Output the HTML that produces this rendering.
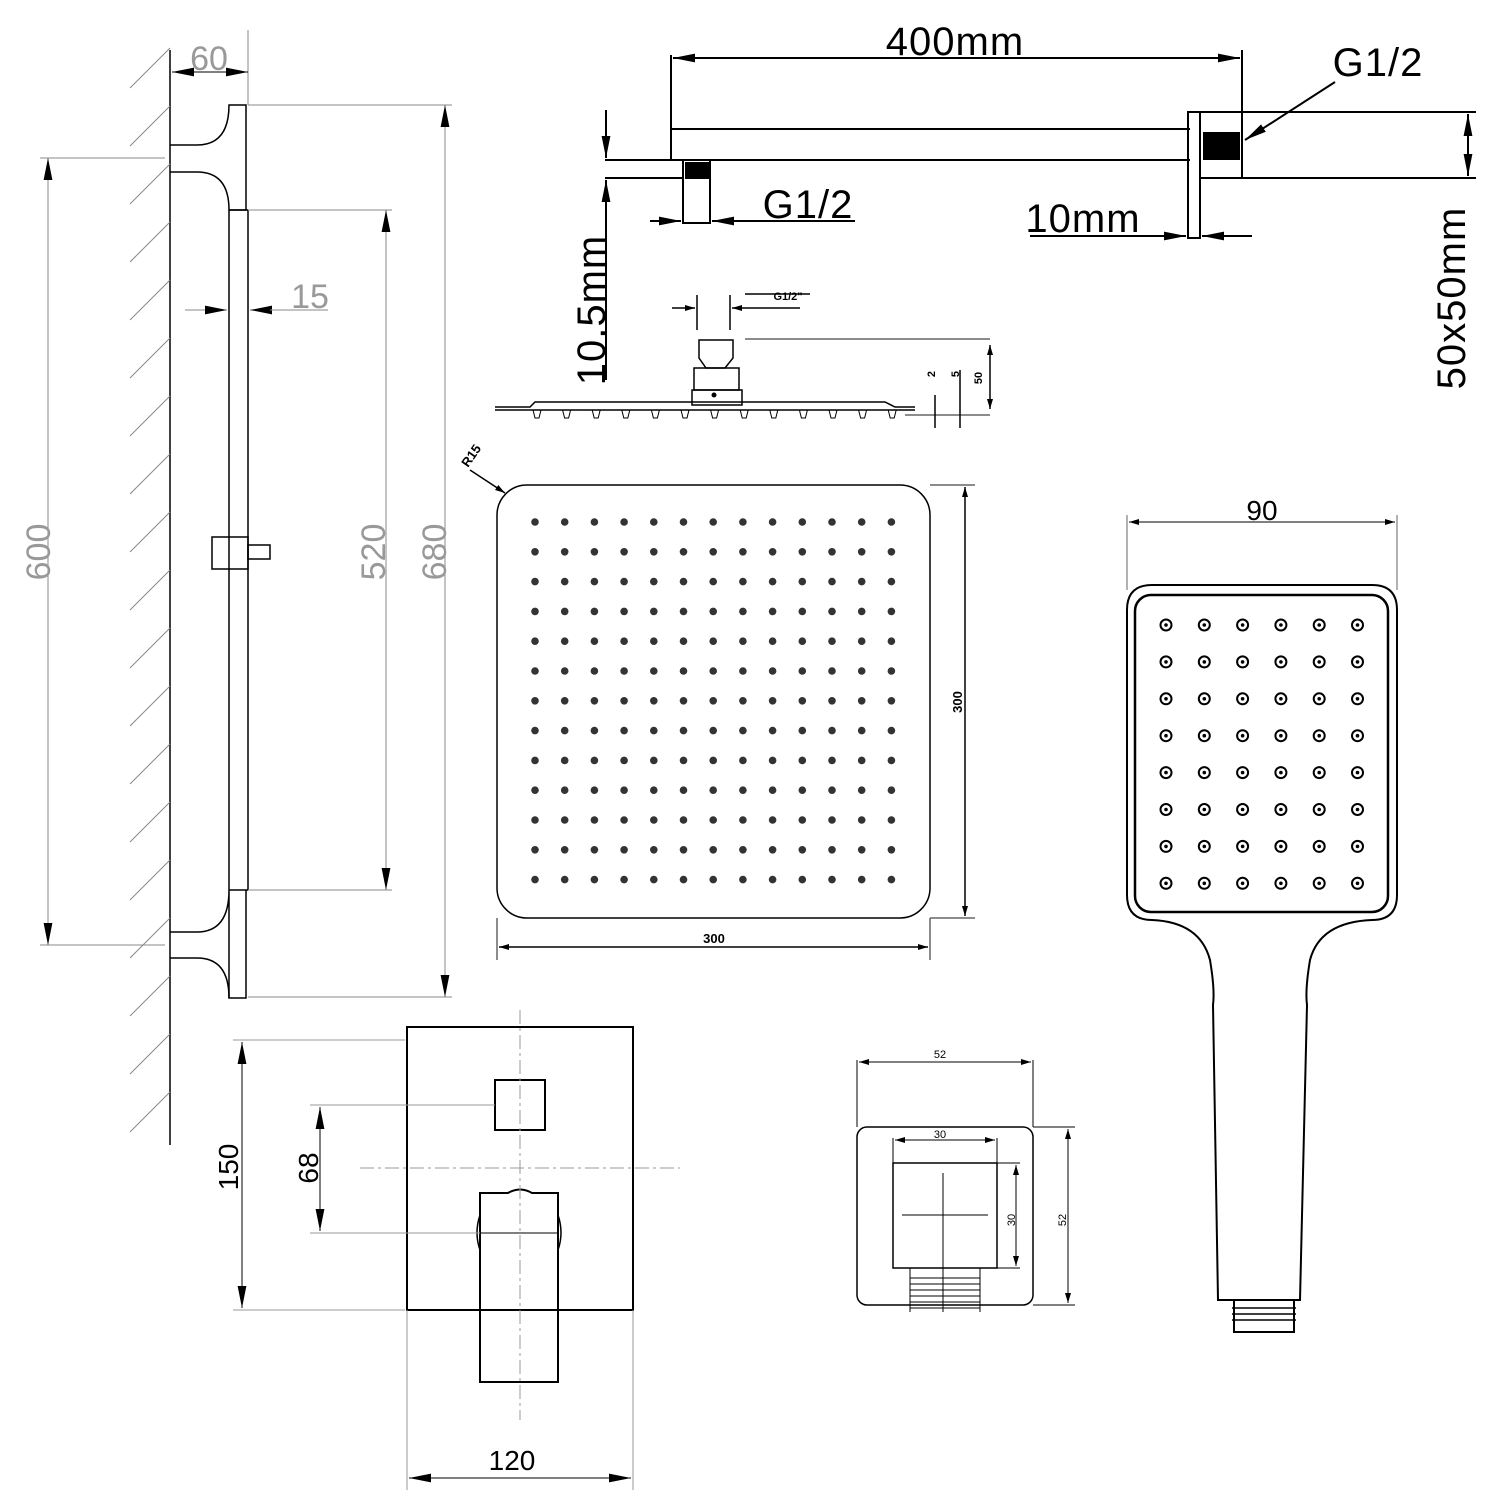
<!DOCTYPE html>
<html><head><meta charset="utf-8"><style>
html,body{margin:0;padding:0;background:#fff}
svg{display:block}
text{font-family:"Liberation Sans",sans-serif}
</style></head><body>
<svg id="s" width="1500" height="1500" viewBox="0 0 1500 1500" xmlns="http://www.w3.org/2000/svg">
<defs>
<marker id="a" viewBox="0 0 10 10" refX="10" refY="5" markerWidth="10" markerHeight="10" markerUnits="userSpaceOnUse" orient="auto-start-reverse"><path d="M0,2 L10,5 L0,8z" fill="#000"/></marker>
<marker id="b" viewBox="0 0 10 10" refX="10" refY="5" markerWidth="22" markerHeight="22" markerUnits="userSpaceOnUse" orient="auto-start-reverse"><path d="M0,3 L10,5 L0,7z" fill="#000"/></marker>
</defs>
<g fill="none" stroke="#000" stroke-width="1.5">
<line x1="170" y1="50" x2="170" y2="1145"/>
<g id="hatch" stroke="#888" stroke-width="1"></g>
<path d="M170,145 L197,145 Q229,145 229,105 L246,105 L246,210 L229,210 Q229,172 197,172 L170,172"/>
<path d="M170,932 L197,932 Q229,932 229,890 L229,998 L246,998 L246,890"/>
<path d="M170,958 L197,958 Q229,958 229,998"/>
<line x1="229" y1="210" x2="229" y2="890"/><line x1="248" y1="210" x2="248" y2="890"/>
<line x1="229" y1="890" x2="248" y2="890"/><line x1="229" y1="210" x2="248" y2="210"/>
<rect x="212" y="537" width="36" height="32"/><rect x="248" y="545" width="22" height="14"/>
</g>
<g stroke="#888" stroke-width="1" fill="none">
<line x1="248" y1="30" x2="248" y2="105"/>
<line x1="172" y1="72" x2="248" y2="72" stroke="#000" marker-start="url(#b)" marker-end="url(#b)"/>
<line x1="40" y1="158" x2="165" y2="158"/><line x1="40" y1="945" x2="165" y2="945"/>
<line x1="48" y1="158" x2="48" y2="945" marker-start="url(#b)" marker-end="url(#b)"/>
<line x1="248" y1="105" x2="452" y2="105"/><line x1="248" y1="997" x2="452" y2="997"/>
<line x1="445" y1="105" x2="445" y2="997" marker-start="url(#b)" marker-end="url(#b)"/>
<line x1="248" y1="210" x2="392" y2="210"/><line x1="248" y1="890" x2="392" y2="890"/>
<line x1="386" y1="210" x2="386" y2="890" marker-start="url(#b)" marker-end="url(#b)"/>
<line x1="185" y1="310" x2="227" y2="310" marker-end="url(#b)"/><line x1="270" y1="310" x2="250" y2="310" marker-end="url(#b)"/><line x1="270" y1="310" x2="328" y2="310"/>
</g>
<g fill="#999" font-size="34">
<text x="209" y="70" text-anchor="middle">60</text>
<text x="310" y="308" text-anchor="middle">15</text>
<text transform="translate(50,552) rotate(-90)" text-anchor="middle">600</text>
<text transform="translate(385,552) rotate(-90)" text-anchor="middle">520</text>
<text transform="translate(446,552) rotate(-90)" text-anchor="middle">680</text>
</g>
<g fill="none" stroke="#000" stroke-width="2">
<line x1="671" y1="55" x2="671" y2="160"/>
<line x1="671" y1="129" x2="1190" y2="129"/>
<line x1="605" y1="160" x2="1190" y2="160"/>
<line x1="605" y1="178" x2="683" y2="178"/>
<rect x="683" y="160" width="27" height="63"/>
<rect x="1188" y="112" width="12" height="126"/>
<rect x="1200" y="112" width="42" height="66"/>
<line x1="1242" y1="50" x2="1242" y2="112"/>
<line x1="1242" y1="112" x2="1476" y2="112"/><line x1="1200" y1="178" x2="1476" y2="178"/>
<line x1="673" y1="58" x2="1240" y2="58" marker-start="url(#b)" marker-end="url(#b)"/>
<line x1="606" y1="110" x2="606" y2="158" marker-end="url(#b)"/><line x1="606" y1="380" x2="606" y2="180" marker-end="url(#b)"/>
<line x1="650" y1="221" x2="681" y2="221" marker-end="url(#b)"/><line x1="855" y1="221" x2="712" y2="221" marker-end="url(#b)"/>
<line x1="1030" y1="236" x2="1186" y2="236" marker-end="url(#b)"/><line x1="1252" y1="236" x2="1202" y2="236" marker-end="url(#b)"/>
<line x1="1468" y1="114" x2="1468" y2="176" marker-start="url(#b)" marker-end="url(#b)"/>
<line x1="1335" y1="82" x2="1245" y2="140" marker-end="url(#b)"/>
</g>
<rect x="685" y="162" width="24" height="17" fill="#000"/>
<rect x="1203" y="132" width="37" height="28" fill="#000"/>
<g font-size="40" fill="#000" style="letter-spacing:1px">
<text x="955" y="55" text-anchor="middle">400mm</text>
<text x="1378" y="76" text-anchor="middle">G1/2</text>
<text x="808" y="218" text-anchor="middle">G1/2</text>
<text x="1083" y="232" text-anchor="middle">10mm</text>
<text transform="translate(605,310) rotate(-90)" text-anchor="middle">10.5mm</text>
<text transform="translate(1465,298) rotate(-90)" text-anchor="middle">50x50mm</text>
</g>
<g fill="none" stroke="#000" stroke-width="1.5">
<line x1="697" y1="295" x2="697" y2="330"/><line x1="730" y1="295" x2="730" y2="330"/>
<line x1="672" y1="308" x2="695" y2="308" marker-end="url(#a)"/><line x1="800" y1="308" x2="732" y2="308" marker-end="url(#a)"/>
<path d="M699,340 L733,340 L733,358 L725,368 L706,368 L699,358Z"/>
<rect x="694" y="368" width="45" height="22"/><rect x="692" y="390" width="50" height="15"/>
<path d="M495,407 L530,407 L535,402 L885,402 L895,407 L915,407 M495,410 L915,410"/>
<line x1="745" y1="339" x2="990" y2="339" stroke="#666"/>
<line x1="905" y1="415" x2="990" y2="415" stroke="#666"/>
<line x1="990" y1="345" x2="990" y2="409" marker-start="url(#a)" marker-end="url(#a)"/>
<line x1="935" y1="395" x2="935" y2="428"/><line x1="960" y1="370" x2="960" y2="428"/>
<g id="noz"></g>
<line x1="745" y1="294" x2="810" y2="294" stroke="#000"/>
</g>
<circle cx="714" cy="395" r="2.5" fill="#000"/>
<g font-size="11" fill="#000" font-weight="bold">
<text x="788" y="300" text-anchor="middle">G1/2"</text>
<text transform="translate(982,378) rotate(-90)" text-anchor="middle">50</text>
<text transform="translate(935,374) rotate(-90)" text-anchor="middle">2</text>
<text transform="translate(959,374) rotate(-90)" text-anchor="middle">5</text>
</g>
<g fill="none" stroke="#000" stroke-width="1.5">
<rect x="497" y="485" width="433" height="433" rx="30"/>
<line x1="930" y1="485" x2="975" y2="485" stroke="#666"/><line x1="930" y1="918" x2="975" y2="918" stroke="#666"/>
<line x1="965" y1="487" x2="965" y2="916" marker-start="url(#a)" marker-end="url(#a)"/>
<line x1="497" y1="918" x2="497" y2="960" stroke="#666"/><line x1="930" y1="918" x2="930" y2="960" stroke="#666"/>
<line x1="499" y1="947" x2="928" y2="947" marker-start="url(#a)" marker-end="url(#a)"/>
<line x1="470" y1="470" x2="505" y2="493" marker-end="url(#a)"/>
</g>
<g id="dots1" fill="#333"></g>
<g font-size="13" fill="#000" font-weight="bold">
<text x="714" y="943" text-anchor="middle">300</text>
<text transform="translate(962,702) rotate(-90)" text-anchor="middle">300</text>
<text transform="translate(468,468) rotate(-55)">R15</text>
</g>
<g fill="none" stroke="#000" stroke-width="2">
<line x1="1127" y1="515" x2="1127" y2="590" stroke="#666" stroke-width="1"/><line x1="1397" y1="515" x2="1397" y2="590" stroke="#666" stroke-width="1"/>
<line x1="1129" y1="522" x2="1395" y2="522" stroke-width="1" marker-start="url(#a)" marker-end="url(#a)"/>
<path d="M1152,585 L1372,585 Q1397,585 1397,610 L1397,895 Q1397,920 1372,920 Q1320,922 1310,960 Q1305,990 1307,1005 L1300,1300 L1218,1300 L1213,1005 Q1215,990 1210,960 Q1200,922 1152,920 Q1127,920 1127,895 L1127,610 Q1127,585 1152,585Z"/>
<rect x="1135" y="595" width="253" height="317" rx="16" stroke-width="2.5"/>
<rect x="1234" y="1300" width="60" height="32" stroke-width="2"/>
<path d="M1232,1308 H1296 M1232,1314 H1296 M1232,1320 H1296" stroke-width="1.5"/>
</g>
<g id="dots2"></g>
<text x="1262" y="520" font-size="28" text-anchor="middle" fill="#000">90</text>
<g fill="none" stroke="#000" stroke-width="2">
<rect x="407" y="1027" width="226" height="283"/>
<rect x="495" y="1080" width="50" height="50"/>
<path d="M480,1193 L508,1193 Q520,1186 532,1193 L558,1193 L558,1382 L480,1382Z"/>
<line x1="480" y1="1233" x2="558" y2="1233" stroke-width="1"/>
<path d="M480,1215 Q474,1233 480,1250 M558,1215 Q564,1233 558,1250" stroke-width="1.5"/>
</g>
<g fill="none" stroke="#999" stroke-width="1">
<line x1="520" y1="1010" x2="520" y2="1420" stroke-dasharray="14,4,3,4"/>
<line x1="360" y1="1168" x2="680" y2="1168" stroke-dasharray="14,4,3,4"/>
<line x1="233" y1="1040" x2="405" y2="1040"/><line x1="233" y1="1310" x2="405" y2="1310"/>
<line x1="310" y1="1105" x2="495" y2="1105"/><line x1="310" y1="1233" x2="480" y2="1233"/>
<line x1="407" y1="1310" x2="407" y2="1490"/><line x1="633" y1="1310" x2="633" y2="1490"/>
<line x1="242" y1="1042" x2="242" y2="1308" stroke="#000" marker-start="url(#b)" marker-end="url(#b)"/>
<line x1="320" y1="1107" x2="320" y2="1231" stroke="#000" marker-start="url(#b)" marker-end="url(#b)"/>
<line x1="409" y1="1478" x2="631" y2="1478" stroke="#000" marker-start="url(#b)" marker-end="url(#b)"/>
</g>
<g font-size="28" fill="#000">
<text transform="translate(238,1167) rotate(-90)" text-anchor="middle">150</text>
<text transform="translate(318,1168) rotate(-90)" text-anchor="middle">68</text>
<text x="512" y="1470" text-anchor="middle">120</text>
</g>
<g fill="none" stroke="#000" stroke-width="1.5">
<rect x="857" y="1127" width="176" height="178" rx="10"/>
<rect x="893" y="1163" width="104" height="105"/>
<line x1="943" y1="1173" x2="943" y2="1312" stroke-width="1"/><line x1="902" y1="1215" x2="988" y2="1215" stroke-width="1"/>
<path d="M910,1268 V1312 M980,1268 V1312 M910,1278 H980 M910,1284 H980 M910,1290 H980 M910,1296 H980 M910,1302 H980 M910,1308 H980" stroke-width="1"/>
<g stroke-width="1">
<line x1="857" y1="1060" x2="857" y2="1127"/><line x1="1033" y1="1060" x2="1033" y2="1127"/>
<line x1="859" y1="1062" x2="1031" y2="1062" marker-start="url(#a)" marker-end="url(#a)"/>
<line x1="893" y1="1138" x2="893" y2="1163"/><line x1="997" y1="1138" x2="997" y2="1163"/>
<line x1="895" y1="1140" x2="995" y2="1140" marker-start="url(#a)" marker-end="url(#a)"/>
<line x1="997" y1="1163" x2="1020" y2="1163"/><line x1="997" y1="1268" x2="1020" y2="1268"/>
<line x1="1016" y1="1165" x2="1016" y2="1266" marker-start="url(#a)" marker-end="url(#a)"/>
<line x1="1033" y1="1127" x2="1075" y2="1127"/><line x1="1033" y1="1305" x2="1075" y2="1305"/>
<line x1="1068" y1="1129" x2="1068" y2="1303" marker-start="url(#a)" marker-end="url(#a)"/>
</g>
</g>
<g font-size="11" fill="#000">
<text x="940" y="1058" text-anchor="middle">52</text>
<text x="940" y="1138" text-anchor="middle">30</text>
<text transform="translate(1015,1220) rotate(-90)" text-anchor="middle">30</text>
<text transform="translate(1066,1220) rotate(-90)" text-anchor="middle">52</text>
</g>
</svg>
<script>
var NS="http://www.w3.org/2000/svg";
function el(p,t,a){var e=document.createElementNS(NS,t);for(var k in a)e.setAttribute(k,a[k]);p.appendChild(e);return e;}
var h=document.getElementById("hatch");
for(var y=48;y<1140;y+=58){el(h,"line",{x1:170,y1:y,x2:130,y2:y+40});}
var n=document.getElementById("noz");
for(var i=0;i<13;i++){var x=537+i*29.6;el(n,"path",{d:"M"+(x-4)+",410 L"+(x+4)+",410 L"+(x+2)+",418 L"+(x-2)+",418Z","stroke-width":"1"});}
var d=document.getElementById("dots1");
for(var r=0;r<13;r++)for(var c=0;c<13;c++){el(d,"circle",{cx:535+c*29.7,cy:522+r*29.8,r:3.8});}
var d2=document.getElementById("dots2");
for(var r=0;r<8;r++)for(var c=0;c<6;c++){var cx=1166+c*38.3,cy=625+r*36.9;el(d2,"circle",{cx:cx,cy:cy,r:5.5,fill:"none",stroke:"#000","stroke-width":"2"});el(d2,"circle",{cx:cx,cy:cy,r:1.8,fill:"#000"});}
</script>
</body></html>
